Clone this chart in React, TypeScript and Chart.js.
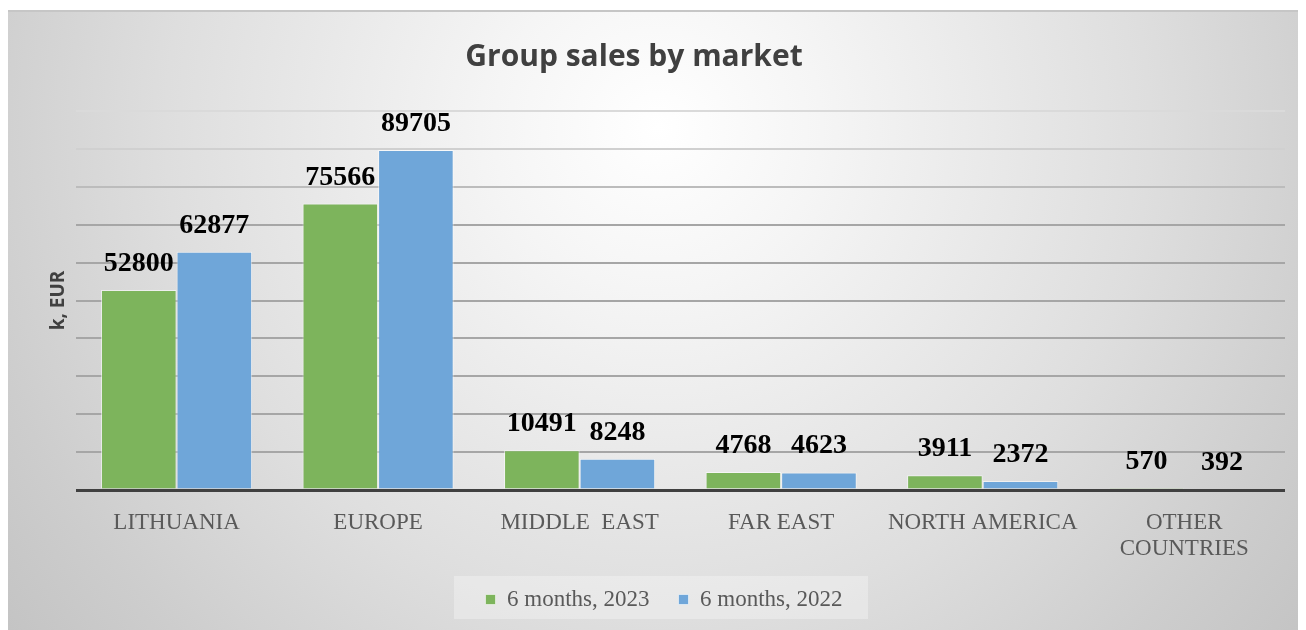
import React, { useEffect, useRef } from "react";
import { Chart, registerables } from "chart.js";

Chart.register(...registerables);

const chartTitle = "Group sales by market";
const yAxisTitle = "k, EUR";
const categories: (string | string[])[] = [
  "LITHUANIA",
  "EUROPE",
  "MIDDLE  EAST",
  "FAR EAST",
  "NORTH AMERICA",
  ["OTHER", "COUNTRIES"],
];
const seriesNames = ["6 months, 2023", "6 months, 2022"];
const sales2023 = [52800, 75566, 10491, 4768, 3911, 570];
const sales2022 = [62877, 89705, 8248, 4623, 2372, 392];
const yMin = 0;
const yMax = 100000;
const yStep = 10000;

const GREEN = "#7db45c";
const BLUE = "#6fa6d9";

const backgroundPlugin = {
  id: "panelBackground",
  afterLayout(chart: any) {
    // the reference title sits a little left of the panel centre
    if (chart.titleBlock) {
      chart.titleBlock.left -= 60;
    }
  },
  beforeDraw(chart: any) {
    const { ctx, width, height } = chart;
    ctx.save();
    const top = 2;
    const g = ctx.createRadialGradient(650, 120, 0, 650, 120, 820);
    g.addColorStop(0, "#ffffff");
    g.addColorStop(0.2, "#f5f5f5");
    g.addColorStop(0.6, "#dedede");
    g.addColorStop(0.85, "#cdcdcd");
    g.addColorStop(1, "#c4c4c4");
    ctx.fillStyle = g;
    ctx.fillRect(0, top, width, height - top);
    ctx.fillStyle = "#c6c6c6";
    ctx.fillRect(0, top, width, 2);
    const lg = chart.legend;
    if (lg) {
      const cx = (lg.left + lg.right) / 2 - 3;
      const pad = lg.options.labels.padding;
      const cy = lg.top + pad + lg.options.labels.font.size / 2 - 2;
      ctx.fillStyle = "rgba(255,255,255,0.3)";
      ctx.fillRect(cx - 207, cy - 21.5, 414, 43);
    }
    ctx.restore();
  },
};

const valueLabelPlugin = {
  id: "valueLabels",
  afterDatasetsDraw(chart: any) {
    const { ctx } = chart;
    ctx.save();
    ctx.font = 'bold 28px "Liberation Serif"';
    ctx.fillStyle = "#000000";
    ctx.textAlign = "center";
    ctx.textBaseline = "alphabetic";
    chart.data.datasets.forEach((ds: any, di: number) => {
      const meta = chart.getDatasetMeta(di);
      meta.data.forEach((bar: any, i: number) => {
        ctx.fillText(String(ds.data[i]), bar.x, bar.y - 19);
      });
    });
    ctx.restore();
  },
};

export default function App() {
  const ref = useRef<HTMLCanvasElement>(null);
  useEffect(() => {
    if (!ref.current) return;
    const chart = new Chart(ref.current, {
      type: "bar",
      data: {
        labels: categories,
        datasets: [
          {
            label: seriesNames[0],
            data: sales2023,
            backgroundColor: GREEN,
            borderColor: "rgba(255,255,255,0.55)",
            borderWidth: 1,
            categoryPercentage: 0.75,
            barPercentage: 1,
          },
          {
            label: seriesNames[1],
            data: sales2022,
            backgroundColor: BLUE,
            borderColor: "rgba(255,255,255,0.55)",
            borderWidth: 1,
            categoryPercentage: 0.75,
            barPercentage: 1,
          },
        ],
      },
      options: {
        responsive: false,
        animation: false,
        layout: { padding: { left: 35, right: 21, top: 10, bottom: 11 } },
        plugins: {
          title: {
            display: true,
            text: chartTitle,
            color: "#404040",
            font: { family: '"Open Sans"', size: 30, weight: "bold", lineHeight: 1.2 },
            padding: { top: 21, bottom: 36 },
          },
          legend: {
            position: "bottom",
            maxHeight: 60,
            labels: {
              boxWidth: 10,
              boxHeight: 10,
              padding: 29,
              color: "#595959",
              font: { family: '"Liberation Serif"', size: 23 },
            },
          },
          tooltip: { enabled: false },
        },
        scales: {
          x: {
            grid: { display: false, drawTicks: false },
            border: { display: false },
            afterFit: (scale: any) => {
              scale.height = 69;
            },
            ticks: {
              color: "#595959",
              padding: 20,
              maxRotation: 0,
              autoSkip: false,
              font: { family: '"Liberation Serif"', size: 23, lineHeight: "26px" },
            },
          },
          y: {
            min: yMin,
            max: yMax,
            border: { display: false },
            ticks: { display: false, stepSize: yStep },
            grid: {
              drawTicks: false,
              color: (c: any) => {
                const v = c.tick ? c.tick.value : 0;
                if (v === 0) return "#404040";
                if (v >= 100000) return "#dadada";
                if (v >= 90000) return "#d0d0d0";
                if (v >= 80000) return "#bcbcbc";
                return "#a6a6a6";
              },
              lineWidth: (c: any) => (c.tick && c.tick.value === 0 ? 3 : 2),
            },
            title: {
              display: true,
              text: yAxisTitle,
              color: "#404040",
              font: { family: '"Open Sans"', size: 19, weight: "bold", lineHeight: 1.2 },
              padding: { top: 4, bottom: 6 },
            },
          },
        },
      },
      plugins: [backgroundPlugin, valueLabelPlugin],
    } as any);
    return () => chart.destroy();
  }, []);
  return (
    <div style={{ width: 1298, height: 622 }}>
      <canvas ref={ref} width={1298} height={622} style={{ display: "block" }} />
    </div>
  );
}
